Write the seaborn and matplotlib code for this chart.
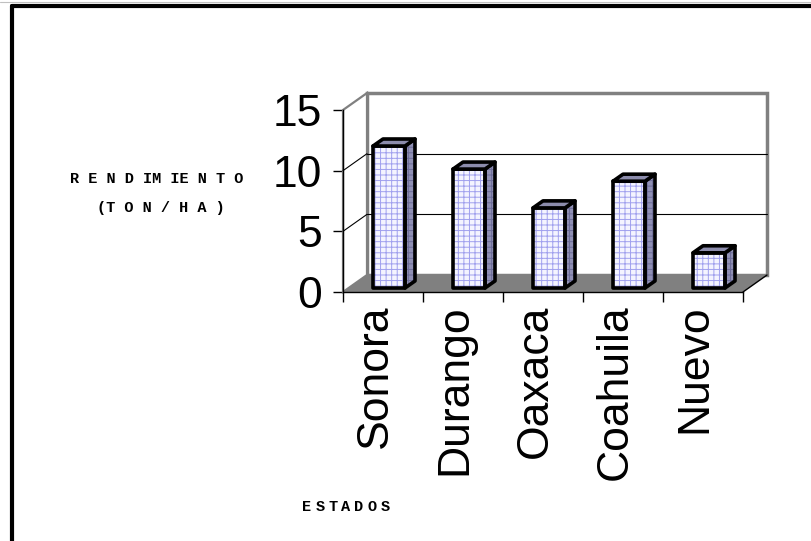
import matplotlib
matplotlib.use("Agg")
import matplotlib.pyplot as plt
import seaborn as sns
import pandas as pd
from matplotlib.patches import Polygon, Rectangle
from matplotlib.lines import Line2D
from matplotlib.transforms import ScaledTranslation

# ── data ─────────────────────────────────────────────────────────────────────
estados = ["Sonora", "Durango", "Oaxaca", "Coahuila", "Nuevo"]
rendimiento = [11.7, 9.8, 6.6, 8.8, 2.9]
y_ticks = [0, 5, 10, 15]

# fake 3D depth (data units) for the box and the bars
WALL_DX, WALL_DY = 0.3, 1.4
BAR_DX, BAR_DY = 0.125, 0.58
BAR_SHIFT_X, BAR_SHIFT_Y = 0.075, 0.33

sns.set_style("white")
plt.rcParams["font.family"] = ["Liberation Sans", "DejaVu Sans"]
plt.rcParams["hatch.linewidth"] = 0.7

W, H = 811, 541
fig = plt.figure(figsize=(W / 100, H / 100), dpi=100)
ax = fig.add_axes([343 / W, 249 / H, 400 / W, 182 / H])

df = pd.DataFrame({"estado": estados, "rend": rendimiento})
sns.barplot(data=df, x="estado", y="rend", order=estados, width=0.4,
            color="#f4f4ff", saturation=1, ax=ax, zorder=3)

ax.set_xlim(-0.5, len(estados) - 0.5)
ax.set_ylim(y_ticks[0], y_ticks[-1])

# ── box: side wall, back wall, floor ─────────────────────────────────────────
x_lo, x_hi = ax.get_xlim()
y_lo, y_hi = ax.get_ylim()
bx0, bx1 = x_lo + WALL_DX, x_hi + WALL_DX
by0, by1 = y_lo + WALL_DY, y_hi + WALL_DY

ax.add_patch(Rectangle((bx0, by0), bx1 - bx0, by1 - by0, fc="white",
                       ec="#808080", lw=2.5, zorder=1, clip_on=False))
ax.add_patch(Polygon([(x_lo, y_lo), (x_lo, y_hi), (bx0, by1), (bx0, by0)],
                     fc="white", ec="#808080", lw=1.6, zorder=1, clip_on=False))
for t in y_ticks[1:-1]:
    ax.add_line(Line2D([bx0, bx1], [t + WALL_DY] * 2, color="black",
                       lw=0.8, zorder=1.5, clip_on=False))
    ax.add_line(Line2D([x_lo, bx0], [t, t + WALL_DY], color="black",
                       lw=0.8, zorder=1.5, clip_on=False))
ax.add_patch(Polygon([(x_lo, y_lo), (x_hi, y_lo), (bx1, by0), (bx0, by0)],
                     fc="#808080", ec="none", zorder=2, clip_on=False))
ax.add_line(Line2D([x_hi, bx1], [y_lo, by0], color="black", lw=1,
                   zorder=2, clip_on=False))

# ── bars: brick-ish front, dark side, top ────────────────────────────────────
edge = dict(ec="black", lw=2.6, joinstyle="round", zorder=5)
for p in list(ax.patches):
    if not isinstance(p, Rectangle) or p.get_zorder() != 3:
        continue
    x0 = p.get_x() + BAR_SHIFT_X
    w, h = p.get_width(), p.get_height()
    y0 = BAR_SHIFT_Y
    y1 = y0 + h
    p.set_x(x0)
    p.set_y(y0)
    p.set_edgecolor("#a0a0ee")
    p.set_linewidth(0)
    p.set_hatch("+++")
    ax.add_patch(Rectangle((x0, y0), w, h, fill=False, **edge))
    side = [(x0 + w, y0), (x0 + w + BAR_DX, y0 + BAR_DY),
            (x0 + w + BAR_DX, y1 + BAR_DY), (x0 + w, y1)]
    ax.add_patch(Polygon(side, fc="#9090b4", ec="#6c6c98", lw=0,
                         hatch="+++", zorder=4))
    ax.add_patch(Polygon(side, fill=False, **edge))
    top = [(x0, y1), (x0 + BAR_DX, y1 + BAR_DY),
           (x0 + w + BAR_DX, y1 + BAR_DY), (x0 + w, y1)]
    ax.add_patch(Polygon(top, fc="#8c8cac", **edge))

# ── axes ─────────────────────────────────────────────────────────────────────
for s in ["top", "right"]:
    ax.spines[s].set_visible(False)
for s in ["left", "bottom"]:
    ax.spines[s].set_color("black")
    ax.spines[s].set_linewidth(1)
    ax.spines[s].set_zorder(6)

ax.set_yticks(y_ticks)
ax.tick_params(axis="y", left=True, length=7, width=1, color="black",
               pad=8, labelsize=32, labelcolor="black")
ax.set_xticks(range(len(estados)), estados, rotation=90)
ax.tick_params(axis="x", which="major", length=0, pad=9, labelsize=32,
               labelcolor="black")
ax.set_xticks([i - 0.5 for i in range(len(estados) + 1)], minor=True)
ax.tick_params(axis="x", which="minor", bottom=True, length=7, width=1,
               color="black")
shift = ScaledTranslation(-8 / 100, 0, fig.dpi_scale_trans)
for lab in ax.get_xticklabels():
    lab.set_transform(lab.get_transform() + shift)
ax.set_xlabel("")
ax.set_ylabel("")

# ── axis titles (spaced monospace) ───────────────────────────────────────────
mono = dict(family=["Liberation Mono", "DejaVu Sans Mono"], weight="bold",
            fontsize=11, color="black", ha="center", va="center")
fig.text(157 / W, 1 - 179 / H, "R E N D IM IE N T O", **mono)
fig.text(161 / W, 1 - 208 / H, "(T O N / H A )", **mono)
for i, ch in enumerate("ESTADOS"):
    fig.text((307 + 13 * i) / W, 1 - 507 / H, ch, **mono)

# ── outer frame (only top and left visible) ──────────────────────────────────
fig.add_artist(Line2D([12 / W, 1], [1 - 6 / H] * 2, color="black", lw=3,
                      transform=fig.transFigure))
fig.add_artist(Line2D([12 / W] * 2, [0, 1 - 6 / H], color="black", lw=3,
                      transform=fig.transFigure))
fig.add_artist(Line2D([0, 1], [1 - 2 / H] * 2, color="#c0c0c0", lw=0.8,
                      transform=fig.transFigure))

fig.savefig("out.png", dpi=100)
plt.close()
